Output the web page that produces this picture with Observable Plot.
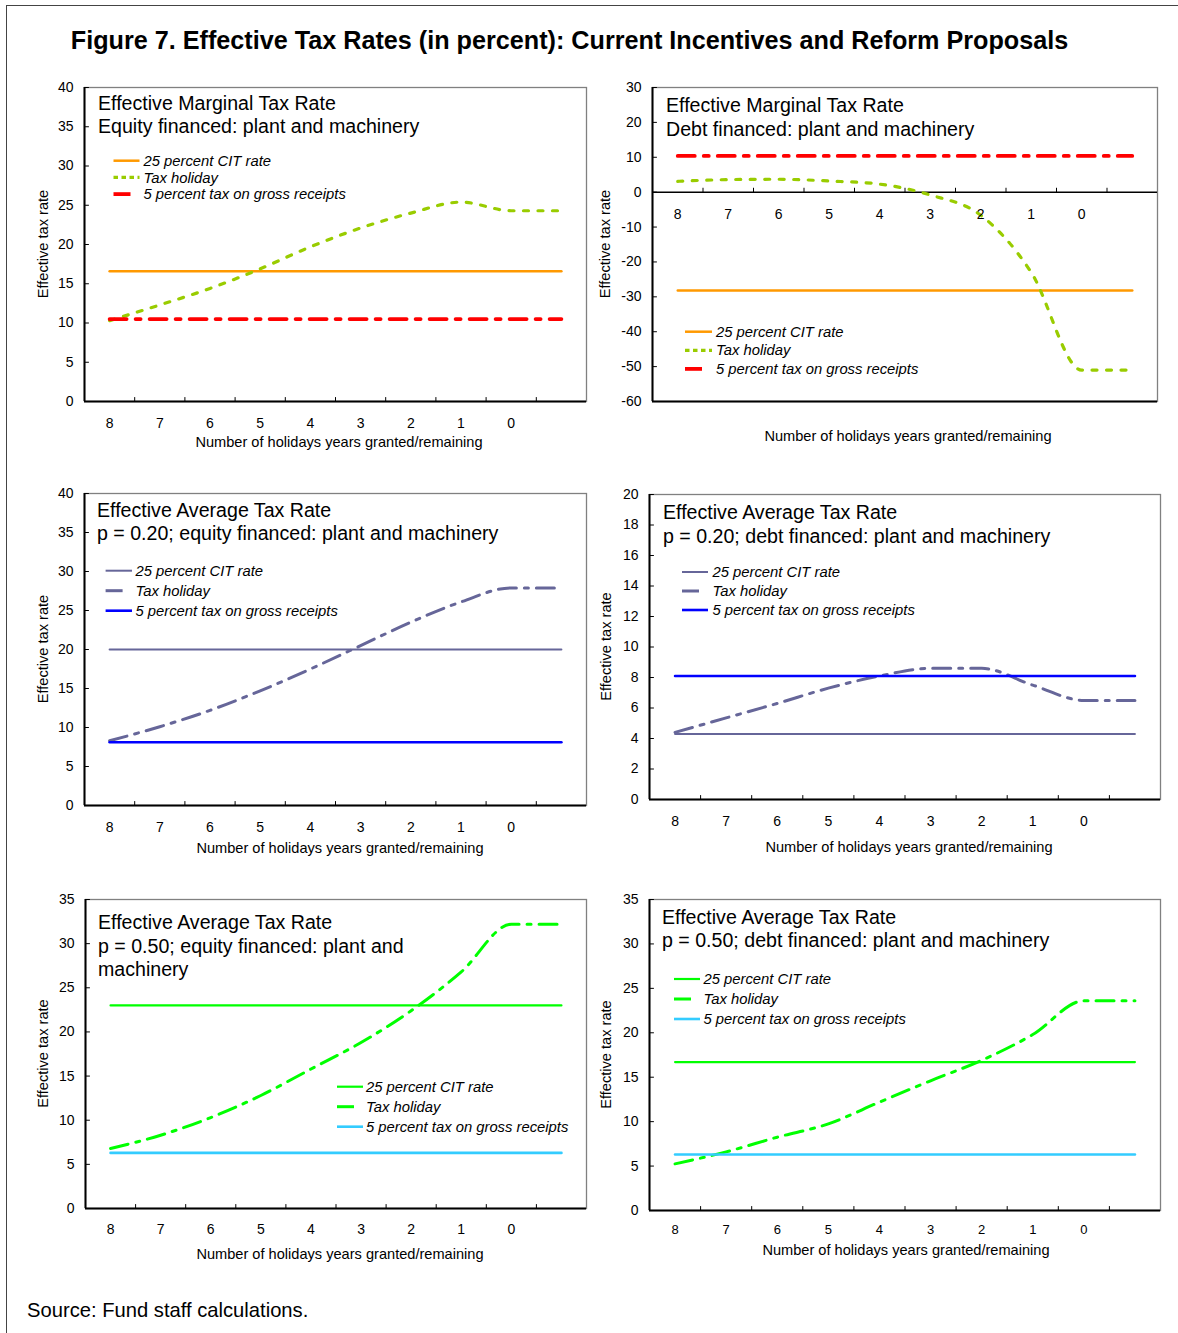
<!DOCTYPE html>
<html>
<head>
<meta charset="utf-8">
<script src="https://cdn.jsdelivr.net/npm/d3@7"></script>
<script src="https://cdn.jsdelivr.net/npm/@observablehq/plot@0.6"></script>
<style>
  body { margin: 0; background: #fff; font-family: "Liberation Sans", Arial, sans-serif; }
  #page { position: relative; width: 1178px; height: 1333px; overflow: hidden; background: #fff; }
  #border { position: absolute; left: 6px; top: 5px; width: 1300px; height: 1400px;
            border-left: 1.5px solid #444; border-top: 1.5px solid #444; }
  #title { position: absolute; left: 0; width: 1139px; top: 26px; line-height: 28px; text-align: center;
           font-weight: bold; font-size: 25.2px; color: #000; white-space: nowrap; }
  #source { position: absolute; left: 27px; top: 1298px; line-height: 24px; font-size: 20.2px; color: #000; }
  .panel { position: absolute; }
</style>
</head>
<body>
<div id="page">
  <div id="border"></div>
  <div id="title">Figure 7. Effective Tax Rates (in percent): Current Incentives and Reform Proposals</div>
  <div id="source">Source: Fund staff calculations.</div>
</div>
<script>
// ---------- Data ----------
const xLabels = ["8", "7", "6", "5", "4", "3", "2", "1", "0", ""];
const seriesNames = ["25 percent CIT rate", "Tax holiday", "5 percent tax on gross receipts"];
const yTitle = "Effective tax rate";
const xTitle = "Number of holidays years granted/remaining";

// Effective Marginal Tax Rate, equity financed
const emtrEquityCIT     = [16.6, 16.6, 16.6, 16.6, 16.6, 16.6, 16.6, 16.6, 16.6, 16.6];
const emtrEquityHoliday = [10.3, 12.3, 14.4, 16.9, 19.7, 22.1, 24.0, 25.4, 24.3, 24.3];
const emtrEquityGRT     = [10.5, 10.5, 10.5, 10.5, 10.5, 10.5, 10.5, 10.5, 10.5, 10.5];

// Effective Marginal Tax Rate, debt financed
const emtrDebtCIT     = [-28.2, -28.2, -28.2, -28.2, -28.2, -28.2, -28.2, -28.2, -28.2, -28.2];
const emtrDebtHoliday = [3.1, 3.6, 3.7, 3.2, 2.3, -0.8, -6.6, -23.0, -51.0, -51.0];
const emtrDebtGRT     = [10.4, 10.4, 10.4, 10.4, 10.4, 10.4, 10.4, 10.4, 10.4, 10.4];

// Effective Average Tax Rate, p = 0.20, equity financed
const eatr20EquityCIT     = [20.0, 20.0, 20.0, 20.0, 20.0, 20.0, 20.0, 20.0, 20.0, 20.0];
const eatr20EquityHoliday = [8.3, 10.1, 12.2, 14.7, 17.5, 20.5, 23.5, 26.1, 27.9, 27.9];
const eatr20EquityGRT     = [8.1, 8.1, 8.1, 8.1, 8.1, 8.1, 8.1, 8.1, 8.1, 8.1];

// Effective Average Tax Rate, p = 0.20, debt financed
const eatr20DebtCIT     = [4.3, 4.3, 4.3, 4.3, 4.3, 4.3, 4.3, 4.3, 4.3, 4.3];
const eatr20DebtHoliday = [4.4, 5.35, 6.3, 7.3, 8.1, 8.6, 8.6, 7.5, 6.5, 6.5];
const eatr20DebtGRT     = [8.1, 8.1, 8.1, 8.1, 8.1, 8.1, 8.1, 8.1, 8.1, 8.1];

// Effective Average Tax Rate, p = 0.50, equity financed
const eatr50EquityCIT     = [23.0, 23.0, 23.0, 23.0, 23.0, 23.0, 23.0, 23.0, 23.0, 23.0];
const eatr50EquityHoliday = [6.8, 8.3, 10.3, 12.8, 15.8, 18.8, 22.4, 26.8, 32.2, 32.2];
const eatr50EquityGRT     = [6.3, 6.3, 6.3, 6.3, 6.3, 6.3, 6.3, 6.3, 6.3, 6.3];

// Effective Average Tax Rate, p = 0.50, debt financed
const eatr50DebtCIT     = [16.7, 16.7, 16.7, 16.7, 16.7, 16.7, 16.7, 16.7, 16.7, 16.7];
const eatr50DebtHoliday = [5.25, 6.6, 8.25, 9.75, 12.2, 14.6, 16.9, 19.8, 23.6, 23.6];
const eatr50DebtGRT     = [6.3, 6.3, 6.3, 6.3, 6.3, 6.3, 6.3, 6.3, 6.3, 6.3];

// y tick labels
const yTicks40 = [0, 5, 10, 15, 20, 25, 30, 35, 40];
const yTicksDebt = [-60, -50, -40, -30, -20, -10, 0, 10, 20, 30];
const yTicks20 = [0, 2, 4, 6, 8, 10, 12, 14, 16, 18, 20];
const yTicks35 = [0, 5, 10, 15, 20, 25, 30, 35];

// ---------- Styles / layout ----------
const FONT = '"Liberation Sans", Arial, sans-serif';
const styleA = [ // orange / yellow-green / red
  {stroke: "#FF9900", width: 2.5, dash: null},
  {stroke: "#99CC00", width: 3.2, dash: "5,9.5", legendDash: "4.5,3.5"},
  {stroke: "#FF0000", width: 3.8, dash: "17,9,5,9", legendDash: "17,20"}
];
const styleB = [ // slate / slate dash-dot / blue
  {stroke: "#666699", width: 2, dash: null},
  {stroke: "#666699", width: 3, dash: "18,8,4,8", legendDash: "17,20"},
  {stroke: "#0000FF", width: 2.6, dash: null}
];
const styleC = [ // green / green dash-dot / sky blue
  {stroke: "#00FF00", width: 2.2, dash: null},
  {stroke: "#00FF00", width: 3, dash: "18,8,4,8", legendDash: "17,20"},
  {stroke: "#33CCFF", width: 2.6, dash: null}
];

const panels = [
  {frame: [84, 87, 586, 401], yDomain: [0, 40], yTicks: yTicks40, base: 0,
   data: [emtrEquityCIT, emtrEquityHoliday, emtrEquityGRT], style: styleA,
   title: ["Effective Marginal Tax Rate", "Equity financed: plant and machinery"], titleX: 98, titleY: 110, titleDy: 23,
   legend: {x1: 113.5, x2: 139.5, tx: 143.5, y: 160.7, dy: 16.7},
   xTitle: [339, 442], yTitleX: 43, xLabelDy: 22, xLabelSize: 14},
  {frame: [652, 87, 1157, 401], yDomain: [-60, 30], yTicks: yTicksDebt, base: 0,
   data: [emtrDebtCIT, emtrDebtHoliday, emtrDebtGRT], style: styleA,
   title: ["Effective Marginal Tax Rate", "Debt financed: plant and machinery"], titleX: 666, titleY: 112, titleDy: 24,
   legend: {x1: 685, x2: 712, tx: 716, y: 331.7, dy: 18.6},
   xTitle: [908, 436], yTitleX: 605, xLabelDy: 22, xLabelSize: 14},
  {frame: [84, 493, 586, 805], yDomain: [0, 40], yTicks: yTicks40, base: 0,
   data: [eatr20EquityCIT, eatr20EquityHoliday, eatr20EquityGRT], style: styleB,
   title: ["Effective Average Tax Rate", "p = 0.20; equity financed: plant and machinery"], titleX: 97, titleY: 517, titleDy: 23,
   legend: {x1: 105.6, x2: 132, tx: 135.5, y: 570.7, dy: 20},
   xTitle: [340, 848], yTitleX: 43, xLabelDy: 22, xLabelSize: 14},
  {frame: [649, 494, 1160, 799], yDomain: [0, 20], yTicks: yTicks20, base: 0,
   data: [eatr20DebtCIT, eatr20DebtHoliday, eatr20DebtGRT], style: styleB,
   title: ["Effective Average Tax Rate", "p = 0.20; debt financed: plant and machinery"], titleX: 663, titleY: 519, titleDy: 23.7,
   legend: {x1: 682, x2: 708, tx: 712.5, y: 572, dy: 19},
   xTitle: [909, 847], yTitleX: 606, xLabelDy: 22, xLabelSize: 14},
  {frame: [85, 899, 586, 1208], yDomain: [0, 35], yTicks: yTicks35, base: 0,
   data: [eatr50EquityCIT, eatr50EquityHoliday, eatr50EquityGRT], style: styleC,
   title: ["Effective Average Tax Rate", "p = 0.50; equity financed: plant and", "machinery"], titleX: 98, titleY: 929, titleDy: 23.5,
   legend: {x1: 337, x2: 363, tx: 366, y: 1086.7, dy: 20},
   xTitle: [340, 1254], yTitleX: 43, xLabelDy: 21, xLabelSize: 14},
  {frame: [649, 899, 1160, 1210], yDomain: [0, 35], yTicks: yTicks35, base: 0,
   data: [eatr50DebtCIT, eatr50DebtHoliday, eatr50DebtGRT], style: styleC,
   title: ["Effective Average Tax Rate", "p = 0.50; debt financed: plant and machinery"], titleX: 662, titleY: 924, titleDy: 23.3,
   legend: {x1: 674, x2: 700, tx: 703.5, y: 979, dy: 20},
   xTitle: [906, 1250], yTitleX: 606, xLabelDy: 19, xLabelSize: 13}
];

const xDomain = [-0.5, 9.5];
const xTickPos = d3.range(9).map(i => i + 0.5);
const tickShape = {draw(ctx, l) { ctx.moveTo(0, 0); ctx.lineTo(0, -l); }};

function drawPanel(p) {
  const ml = 70, mr = 14, mt = 12, mb = 62;
  const [L, T, R, B] = p.frame;
  const W = R - L + ml + mr, H = B - T + mt + mb;
  const sx = L - ml, sy = T - mt;

  const marks = [
    Plot.frame({stroke: "#808080", strokeWidth: 1.3}),
    Plot.ruleX([xDomain[0]], {stroke: "#000", strokeWidth: 2}),
    Plot.ruleY([p.yDomain[0]], {stroke: "#000", strokeWidth: 2})
  ];
  if (p.base !== p.yDomain[0]) marks.push(Plot.ruleY([p.base], {stroke: "#000", strokeWidth: 1.5}));

  // series
  p.data.forEach((vals, k) => {
    const s = p.style[k];
    marks.push(Plot.lineY(vals, {
      x: (d, i) => i, y: d => d, stroke: s.stroke, strokeWidth: s.width,
      strokeDasharray: s.dash, curve: "monotone-x"
    }));
  });

  // tick marks (inward)
  marks.push(Plot.vector(xTickPos, {x: d => d, y: p.base, length: 4, rotate: 0, anchor: "start",
    shape: tickShape, stroke: "#000", strokeWidth: 1}));
  marks.push(Plot.vector(p.yTicks, {x: xDomain[0], y: d => d, length: 4, rotate: 90, anchor: "start",
    shape: tickShape, stroke: "#000", strokeWidth: 1}));

  // tick labels
  marks.push(Plot.axisY({ticks: p.yTicks, tickSize: 0, tickPadding: 11, label: null,
    tickFormat: d => String(d), fontSize: 14}));
  marks.push(Plot.text(xLabels, {x: (d, i) => i, y: p.base, dy: p.xLabelDy, fontSize: p.xLabelSize, fill: "#000"}));

  const svg = Plot.plot({
    width: W, height: H,
    marginLeft: ml, marginRight: mr, marginTop: mt, marginBottom: mb,
    x: {domain: xDomain, axis: null},
    y: {domain: p.yDomain},
    style: {fontFamily: FONT, fontSize: "14px", color: "#000", background: "transparent", overflow: "visible"},
    marks
  });

  const g = d3.select(svg).append("g").attr("font-family", FONT).attr("fill", "#000")
    .attr("text-anchor", "start");
  // panel title
  p.title.forEach((t, i) => {
    g.append("text").attr("x", p.titleX - sx).attr("y", p.titleY + i * p.titleDy - sy)
      .attr("text-anchor", "start").attr("font-size", 19.6).text(t);
  });
  // legend
  seriesNames.forEach((name, k) => {
    const s = p.style[k];
    const y = p.legend.y + k * p.legend.dy - sy;
    const dash = s.legendDash || s.dash;
    g.append("line").attr("x1", p.legend.x1 - sx).attr("x2", p.legend.x2 - sx)
      .attr("y1", y).attr("y2", y).attr("stroke", s.stroke).attr("stroke-width", s.width)
      .attr("stroke-dasharray", dash);
    g.append("text").attr("x", p.legend.tx - sx).attr("y", y).attr("dy", "0.35em")
      .attr("text-anchor", "start").attr("font-size", 14.8).attr("font-style", "italic").text(name);
  });
  // axis titles
  g.append("text").attr("x", p.xTitle[0] - sx).attr("y", p.xTitle[1] - sy).attr("dy", "0.35em")
    .attr("text-anchor", "middle").attr("font-size", 14.6).text(xTitle);
  g.append("text").attr("transform", `translate(${p.yTitleX - sx},${(T + B) / 2 - sy}) rotate(-90)`)
    .attr("dy", "0.35em").attr("text-anchor", "middle").attr("font-size", 14.6).text(yTitle);

  const div = document.createElement("div");
  div.className = "panel";
  div.style.left = sx + "px";
  div.style.top = sy + "px";
  div.appendChild(svg);
  document.getElementById("page").appendChild(div);
}

panels.forEach(drawPanel);
</script>
</body>
</html>
